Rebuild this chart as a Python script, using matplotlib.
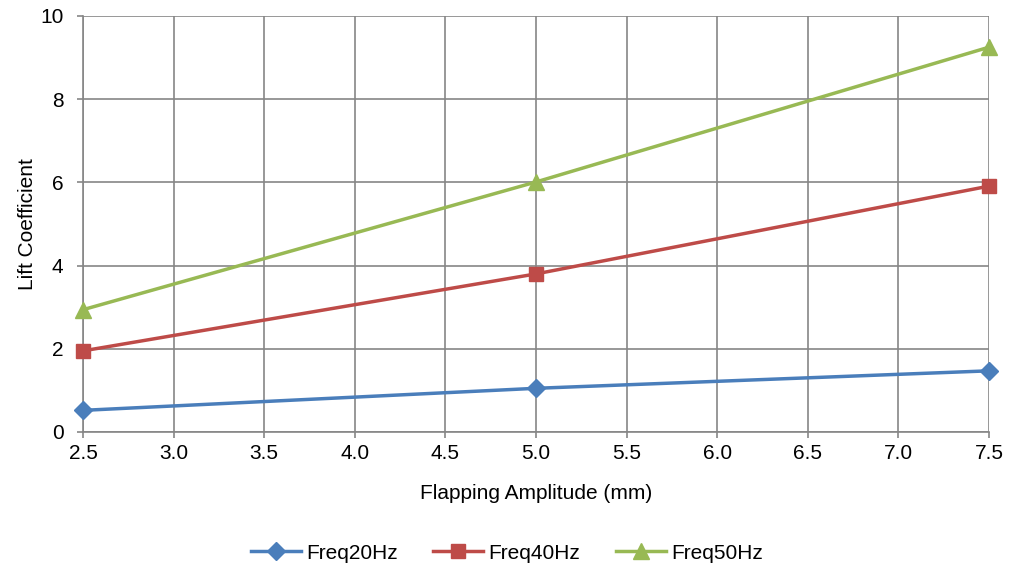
import matplotlib
matplotlib.use('Agg')
import numpy as np
import matplotlib.pyplot as plt

plt.rcParams['font.family'] = ['Liberation Sans', 'DejaVu Sans']

amplitude = [2.5, 5.0, 7.5]
freq20 = [0.52, 1.05, 1.47]
freq40 = [1.95, 3.80, 5.91]
freq50 = [2.94, 6.01, 9.25]
series_names = ['Freq20Hz', 'Freq40Hz', 'Freq50Hz']

fig = plt.figure(figsize=(10.14, 5.69), dpi=100)
ax = fig.add_axes([0.0819, 0.2408, 0.8934, 0.7311])

ax.plot(amplitude, freq20, color='#4A7EBB', linewidth=2.5, marker='D',
        markersize=9, label=series_names[0], clip_on=False, zorder=3)
ax.plot(amplitude, freq40, color='#BE4B48', linewidth=2.5, marker='s',
        markersize=10, label=series_names[1], clip_on=False, zorder=3)
ax.plot(amplitude, freq50, color='#98B954', linewidth=2.5, marker='^',
        markersize=11, label=series_names[2], clip_on=False, zorder=3)

ax.set_xlim(2.5, 7.5)
ax.set_ylim(0, 10)
ax.set_xticks(np.arange(2.5, 7.51, 0.5))
ax.set_xticklabels(['%.1f' % v for v in np.arange(2.5, 7.51, 0.5)])
ax.set_yticks(np.arange(0, 10.1, 2))
ax.grid(True, color='#868686', linewidth=1.2)
ax.set_axisbelow(True)
for side in ['top', 'right']:
    ax.spines[side].set_visible(False)
for side in ['left', 'bottom']:
    ax.spines[side].set_color('#868686')
    ax.spines[side].set_linewidth(1.2)
ax.tick_params(axis='both', labelsize=15, color='#868686', length=4, width=1.2)
ax.tick_params(axis='y', pad=10)
ax.tick_params(axis='x', pad=5)

ax.set_xlabel('Flapping Amplitude (mm)', fontsize=15, labelpad=15)
ax.set_ylabel('Lift Coefficient', fontsize=15, labelpad=2)

leg = fig.legend(loc='center', bbox_to_anchor=(0.5, 0.028), ncol=3,
                 frameon=False, fontsize=15, handlelength=2.4,
                 columnspacing=1.7, handletextpad=0.25)

plt.savefig('out.png', dpi=100)
